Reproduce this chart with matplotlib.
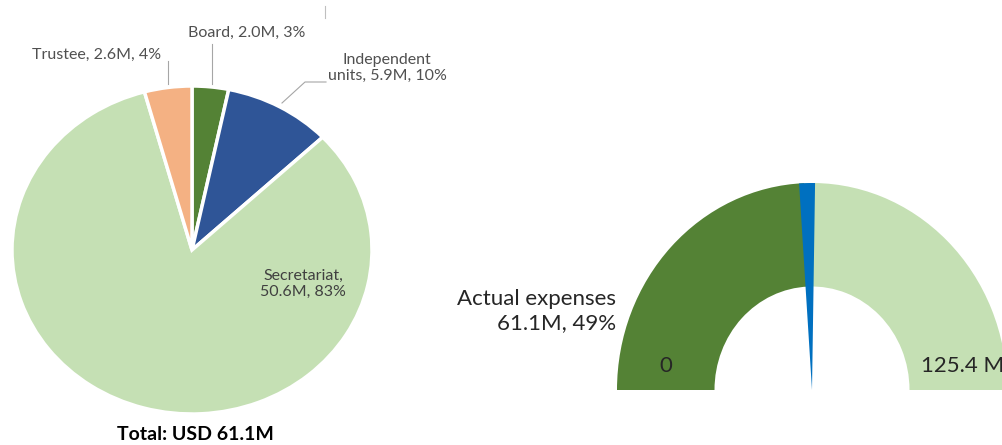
import matplotlib
matplotlib.use("Agg")
import matplotlib.pyplot as plt
from matplotlib.patches import Wedge

plt.rcParams['font.family'] = ['Lato', 'DejaVu Sans']

# pie data (clockwise from 12 o'clock)
pie_names = ['Board', 'Independent\nunits', 'Secretariat', 'Trustee']
pie_values = [2.0, 5.9, 50.6, 2.6]
pie_colors = ['#548235', '#2F5597', '#C5E0B4', '#F4B183']

# gauge data
actual = 61.1
budget = 125.4
gauge_colors = ['#548235', '#C5E0B4']
needle_color = '#0070C0'

W, H = 1002, 445
fig = plt.figure(figsize=(W / 100, H / 100), dpi=100)


def box(left, top, right, bottom):
    # pixel box (y down) -> figure fraction rect
    return [left / W, 1 - bottom / H, (right - left) / W, (bottom - top) / H]


# left pie
ax_pie = fig.add_axes(box(12, 86, 372, 414))
ax_pie.pie(pie_values, startangle=90, counterclock=False, colors=pie_colors,
           wedgeprops=dict(edgecolor='white', linewidth=2.5))
ax_pie.set_aspect('auto')
ax_pie.set_xlim(-1, 1)
ax_pie.set_ylim(-1, 1)
ax_pie.axis('off')

# right gauge (upper half of a doughnut)
ax_g = fig.add_axes(box(617, 183, 1007, 390))
ax_g.pie([actual, budget - actual, budget], startangle=180, counterclock=False,
         colors=gauge_colors + ['none'], wedgeprops=dict(width=0.5, linewidth=0))
val_angle = 180 - 180 * actual / budget
ax_g.add_patch(Wedge((0, 0), 1, val_angle - 3.2, val_angle + 1.5, color=needle_color, lw=0))
ax_g.set_aspect('auto')
ax_g.set_xlim(-1, 1)
ax_g.set_ylim(0, 1)
ax_g.axis('off')

# overlay in pixel coords for labels and leader lines
ov = fig.add_axes([0, 0, 1, 1], zorder=5)
ov.set_xlim(0, W)
ov.set_ylim(H, 0)
ov.axis('off')
ov.patch.set_alpha(0)

total = sum(pie_values)
pct = [round(v / total * 100) for v in pie_values]
lab = [f"{n}, {v:.1f}M, {p}%" for n, v, p in zip(pie_names, pie_values, pct)]
lab[2] = f"Secretariat,\n{pie_values[2]:.1f}M, {pct[2]}%"

gray = '#505050'
line_c = '#A6A6A6'
fs = 11.5
ov.text(247, 33, lab[0], ha='center', va='center', fontsize=fs, color=gray)
ov.text(97, 55, lab[3], ha='center', va='center', fontsize=fs, color=gray)
ov.text(387, 68, lab[1], ha='center', va='center', fontsize=fs, color=gray, linespacing=1.2)
ov.text(303, 284, lab[2], ha='center', va='center', fontsize=fs, color='#404040', linespacing=1.2)

ov.plot([212, 212], [44, 84], color=line_c, lw=0.8)
ov.plot([168, 168], [61, 84], color=line_c, lw=0.8)
ov.plot([282, 305, 326], [103, 82, 82], color=line_c, lw=0.8)
ov.plot([325, 325], [6, 18], color='#BFBFBF', lw=0.8)

ov.text(195, 434, f"Total: USD {total:.1f}M", ha='center', va='center',
        fontsize=14, fontweight='bold', color='black')

ov.text(616, 311, f"Actual expenses\n{actual:.1f}M, {round(actual / budget * 100)}%",
        ha='right', va='center', fontsize=16, color='#262626', multialignment='right',
        linespacing=1.2)
ov.text(666, 366, "0", ha='center', va='center', fontsize=16, color='#262626')
ov.text(1004, 366, f"{budget:.1f} M", ha='right', va='center', fontsize=16, color='#262626')

fig.savefig('out.png', dpi=100)
